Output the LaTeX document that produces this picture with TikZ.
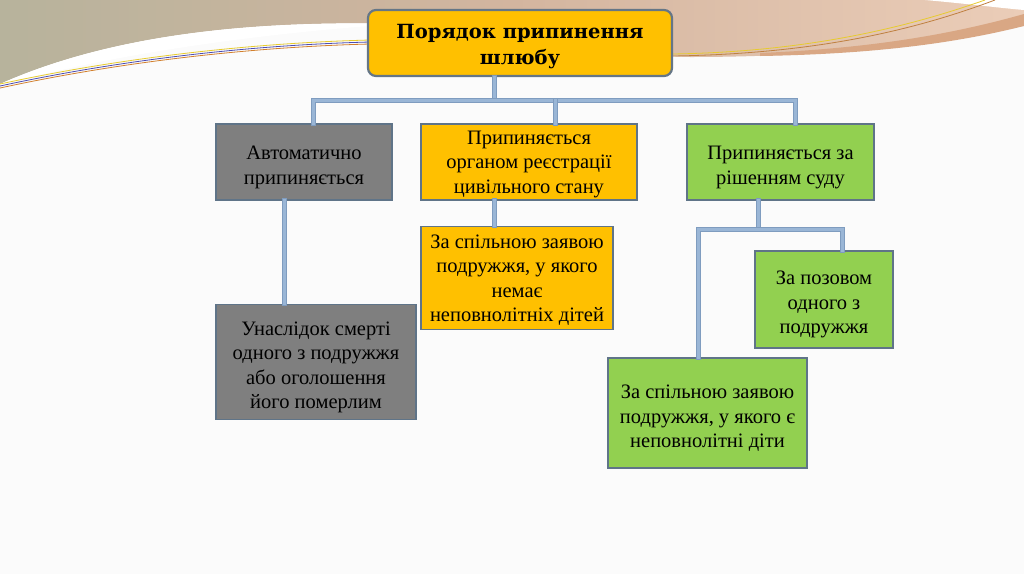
\documentclass[tikz,border=0pt]{standalone}
\usepackage{fontspec}
\setmainfont{Liberation Serif}
\newfontfamily\titlefont{DejaVu Serif}
\usetikzlibrary{calc}
\newcommand\toprule[1]{\rule{0pt}{#1}}
\definecolor{bgc}{HTML}{FBFBFB}
\definecolor{boxgray}{HTML}{7F7F7F}
\definecolor{boxorange}{HTML}{FFC000}
\definecolor{boxgreen}{HTML}{92D050}
\definecolor{boxedge}{HTML}{5F7488}
\definecolor{linkc}{HTML}{9AB6D6}
\definecolor{linkedge}{HTML}{7F9CBF}
\definecolor{tanA}{HTML}{B7B39C}
\definecolor{tanB}{HTML}{D3B59F}
\definecolor{tanC}{HTML}{EBCDB8}
\definecolor{bandc}{HTML}{D9A784}
\tikzset{
  box/.style={draw=boxedge, line width=1.8pt, align=center, inner xsep=2pt, inner ysep=0pt,
    font=\fontsize{20.5}{24.5}\selectfont, text=black},
  titlebox/.style={draw=boxedge!80!gray, line width=2.2pt, fill=boxorange,
    rounded corners=8pt, align=center, font=\titlefont\bfseries\fontsize{19.5}{26}\selectfont},
  link/.style={draw=linkedge, line width=5pt, line cap=rect, line join=miter,
    postaction={draw=linkc, line width=3pt}},
  thinline/.style={line width=0.8pt}
}
\begin{document}
\begin{tikzpicture}[x=1pt,y=-1pt]
\useasboundingbox (0,0) rectangle (1024,574);
\fill[bgc] (0,0) rectangle (1024,574);
% top decoration
\shade[left color=tanA, right color=tanC, middle color=tanB]
  (0,0) -- (1024,0) -- (1024,24) .. controls (940,45) and (820,57) .. (690,57)
  .. controls (600,55) and (480,30) .. (400,24)
  .. controls (250,20) and (110,35) .. (0,84) -- cycle;
\fill[white] (0,84) .. controls (110,35) and (250,20) .. (400,24)
  .. controls (330,28) and (140,45) .. (0,86) -- cycle;
\fill[bandc] (760,53) .. controls (880,48) and (960,32) .. (1024,14)
  -- (1024,26) .. controls (960,42) and (880,54) .. (760,56) -- cycle;
\fill[white] (925,0) .. controls (970,4) and (1000,8) .. (1024,10) -- (1024,0) -- cycle;
\draw[thinline, draw=yellow!60!brown] (0,84) .. controls (120,58) and (250,43) .. (370,40);
\draw[thinline, draw=blue!40!gray] (0,86) .. controls (120,60) and (250,45) .. (370,42);
\draw[thinline, draw=brown!70!orange] (0,88) .. controls (120,62) and (250,47) .. (370,44);
\draw[thinline, draw=yellow!60!brown] (672,54) .. controls (800,52) and (900,30) .. (985,0);
\draw[thinline, draw=brown] (672,56) .. controls (810,54) and (910,32) .. (995,0);

% nodes
\node[titlebox, minimum width=304pt, minimum height=66pt] (title) at (520,43)
  {\toprule{22pt}Порядок припинення\\шлюбу};
\node[box, fill=boxgray, minimum width=176pt, minimum height=76pt] (b1) at (304,162)
  {\toprule{24pt}Автоматично\\припиняється};
\node[box, fill=boxorange, minimum width=216pt, minimum height=76pt] (b2) at (529,162)
  {\toprule{18pt}Припиняється\\органом реєстрації\\цивільного стану};
\node[box, fill=boxgreen, minimum width=187pt, minimum height=76pt] (b3) at (780.5,162)
  {\toprule{24pt}Припиняється за\\рішенням суду};
\node[box, fill=boxgray, minimum width=200pt, minimum height=115pt] (b4) at (316,362)
  {\toprule{24pt}Унаслідок смерті\\одного з подружжя\\або оголошення\\його померлим};
\node[box, fill=boxorange, minimum width=192pt, minimum height=103pt] (b5) at (517,278)
  {\toprule{18pt}За спільною заявою\\подружжя, у якого\\немає\\неповнолітніх дітей};
\node[box, fill=boxgreen, minimum width=138pt, minimum height=97pt] (b6) at (824,299.5)
  {\toprule{24pt}За позовом\\одного з\\подружжя};
\node[box, fill=boxgreen, minimum width=199pt, minimum height=110pt] (b7) at (707.5,413)
  {\toprule{24pt}За спільною заявою\\подружжя, у якого є\\неповнолітні діти};

% connector coordinates
\coordinate (j0) at (494,100);
\coordinate (h1) at (313,100);
\coordinate (h2) at (555,100);
\coordinate (h3) at (795,100);
\coordinate (c1) at (284,0);
\coordinate (c2) at (494,0);
\coordinate (j3) at (758,229);
\coordinate (g1) at (698,229);
\coordinate (g2) at (842,229);

\path[link] (title.south -| j0) -- (j0);
\path[link] (b1.north -| h1) -- (h1) -- (h3) -- (b3.north -| h3);
\path[link] (h2) -- (b2.north -| h2);
\path[link] (b1.south -| c1) -- (b4.north -| c1);
\path[link] (b2.south -| c2) -- (b5.north -| c2);
\path[link] (b3.south -| j3) -- (j3);
\path[link] (b7.north -| g1) -- (g1) -- (g2) -- (b6.north -| g2);
\end{tikzpicture}
\end{document}
